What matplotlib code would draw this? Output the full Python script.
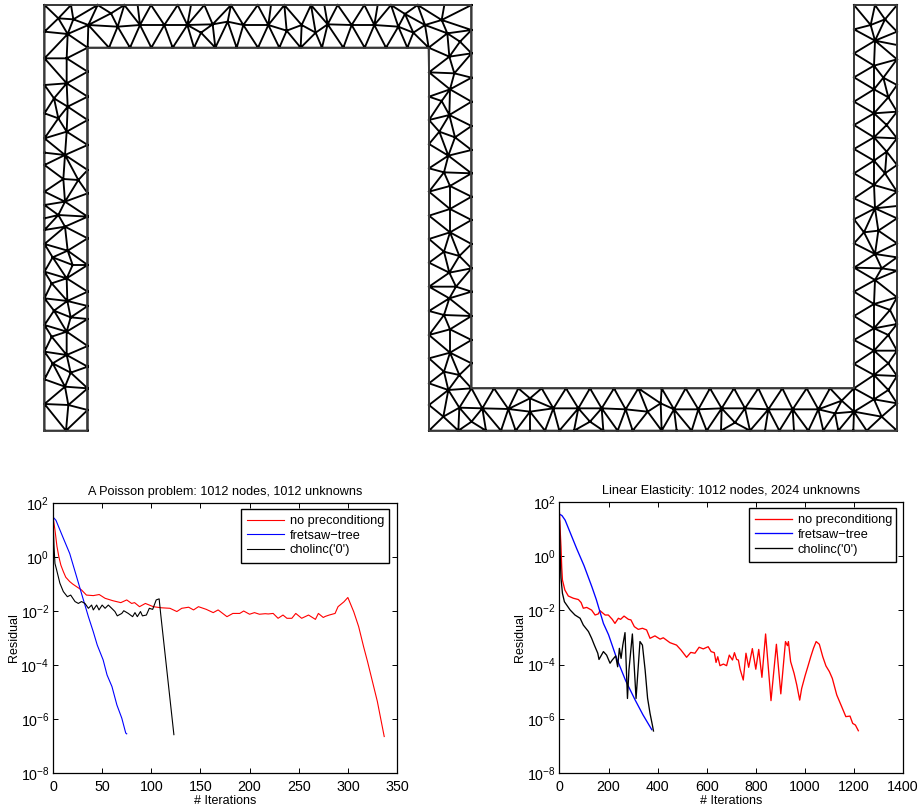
import numpy as np
import matplotlib
matplotlib.use("Agg")
import matplotlib.pyplot as plt
import matplotlib.tri as mtri
from matplotlib.path import Path

plt.rcParams['font.family'] = ['Liberation Sans', 'DejaVu Sans']
plt.rcParams['mathtext.default'] = 'regular'

# mesh outline in picture pixels
outline_x = [44.5, 44.5, 471.5, 471.5, 854, 854, 897, 897, 429, 429, 87, 87, 44.5]
outline_y = [431, 5, 5, 388, 388, 5, 5, 431, 431, 48, 48, 431, 431]

top_band = [(x, 15) for x in [43, 123, 203, 283, 323, 363, 443, 483, 523, 603, 683, 723, 763, 843, 883, 923, 1003, 1043, 1083, 1163, 1243, 1323]]
top_band += [(x, 143) for x in [173, 237, 300, 364, 428, 492, 556, 620, 684, 748, 812, 876, 940, 1004, 1068, 1132, 1196]]
top_band += [(85, 55), (130, 58), (113, 102), (45, 95), (175, 75), (243, 40), (263, 80), (330, 75), (403, 75), (472, 75),
             (548, 73), (513, 98), (593, 65), (640, 75), (715, 75), (770, 92), (815, 75), (857, 98), (893, 73), (965, 75),
             (1033, 75), (1105, 80), (1125, 42), (1185, 75), (1150, 98), (1252, 100), (1235, 60), (1290, 125), (1323, 90)]
left_leg_top = [(43, y) for y in [175, 255, 340, 415, 458, 495, 575, 615, 655]]
left_leg_top += [(173, y) for y in [215, 290, 360, 435, 510, 580, 650]]
left_leg_top += [(110, 175), (110, 250), (72, 295), (113, 320), (85, 355), (110, 395), (105, 465), (100, 537), (145, 540), (105, 605), (85, 645)]
left_leg_low = [(43, y) for y in [30, 72, 155, 235, 315, 395, 478, 552, 632]]
left_leg_low += [(173, y) for y in [55, 135, 215, 258, 297, 378, 440, 505, 570, 632]]
left_leg_low += [(108, 632), (105, 20), (113, 92), (68, 112), (128, 135), (110, 175), (65, 190), (112, 243), (72, 272), (122, 292),
                 (110, 335), (65, 350), (110, 405), (68, 430), (122, 458), (105, 500), (115, 555)]
mid_leg_top = [(27, y) for y in [97, 170, 240, 312, 385, 455, 527, 597]]
mid_leg_top += [(153, y) for y in [40, 113, 185, 258, 330, 400, 470, 540]]
mid_leg_top += [(88, 50), (103, 100), (90, 148), (65, 183), (88, 225), (58, 275), (105, 292), (85, 347), (72, 397), (90, 438), (90, 507), (90, 577)]
mid_leg_low = [(27, y) for y in [98, 170, 243, 315, 385]]
mid_leg_low += [(153, y) for y in [42, 115, 185, 258, 330, 400]]
mid_leg_low += [(72, 65), (118, 78), (88, 128), (108, 170), (88, 205), (72, 255), (90, 298), (90, 368)]
bottom_band = [(x, 55) for x in [155, 222, 295, 365, 438, 510, 582, 655, 725, 797, 870, 942, 1015, 1087, 1160, 1230, 1302]]
bottom_band += [(x, 182) for x in [27, 115, 198, 243, 287, 330, 375, 418, 462, 550, 593, 638, 725, 770, 815, 860, 903, 990, 1035, 1078, 1122, 1165, 1210, 1255, 1300, 1340, 1430]]
bottom_band += [(27, 40), (27, 105), (1430, 18), (1430, 100), (72, 5), (118, 15), (85, 60), (118, 113), (70, 140), (155, 155), (187, 115),
                (265, 117), (330, 85), (330, 125), (400, 115), (475, 115), (510, 155), (545, 115), (617, 118), (683, 125), (722, 100),
                (762, 118), (835, 118), (905, 115), (945, 158), (975, 115), (1045, 118), (1118, 118), (1195, 118), (1245, 130), (1265, 92),
                (1302, 125), (1362, 88), (1385, 140), (1362, 15)]
right_leg_top = [(42, y) for y in [15, 88, 160, 232, 305, 375, 447, 520, 595]]
right_leg_top += [(170, y) for y in [15, 95, 135, 178, 255, 335, 415, 495, 575]]
right_leg_top += [(105, 15), (92, 75), (135, 58), (105, 122), (102, 197), (130, 233), (102, 268), (145, 292), (102, 340), (140, 375),
                  (102, 412), (140, 455), (102, 482), (135, 520), (102, 555)]
right_leg_low = [(42, y) for y in [58, 130, 203, 275, 348, 420, 492]]
right_leg_low += [(170, y) for y in [18, 55, 130, 172, 212, 292, 372, 452]]
right_leg_low += [(105, 25), (72, 97), (115, 92), (105, 162), (125, 205), (105, 240), (102, 312), (150, 330), (102, 385), (145, 405),
                  (102, 452), (145, 490), (145, 570)]

mesh_crops = [(30, 0, top_band), (30, 0, left_leg_top), (30, 220, left_leg_low), (420, 40, mid_leg_top), (420, 230, mid_leg_low),
              (420, 370, bottom_band), (840, 0, right_leg_top), (840, 200, right_leg_low)]

# Poisson problem, x = iteration, y = log10 of residual
poisson_red_x = [0, 2, 4, 6, 8, 10.5, 13, 17, 20, 24, 29, 34, 41, 47, 53, 61, 69, 75, 80, 83, 88, 94, 102, 110, 119, 126, 131, 138, 143, 148, 156, 163, 168, 177, 183, 190, 194, 200, 205, 210, 216, 219, 224, 229, 234, 238, 243, 247, 253, 260, 267, 270, 275, 277, 281, 287, 290, 296, 300, 306, 311, 316, 320, 325, 330, 337]
poisson_red_y = [1.5, 1.0, 0.4, 0.0, -0.3, -0.54, -0.75, -0.91, -1.0, -1.1, -1.22, -1.41, -1.43, -1.39, -1.53, -1.62, -1.69, -1.59, -1.72, -1.69, -1.84, -1.72, -1.84, -1.88, -1.9, -2.02, -1.9, -1.86, -1.96, -1.84, -1.94, -2.06, -1.96, -2.21, -2.09, -2.09, -2.0, -2.12, -2.06, -2.12, -2.1, -2.11, -2.09, -2.27, -2.15, -2.27, -2.27, -2.09, -2.27, -2.15, -2.31, -2.09, -2.24, -2.2, -2.15, -2.09, -1.84, -1.66, -1.5, -2.03, -2.58, -3.32, -3.87, -4.61, -5.35, -6.65]
poisson_blue_x = [0, 3, 10, 17, 24, 29, 36, 41, 45, 51, 55, 60, 65, 70, 74, 75]
poisson_blue_y = [1.48, 1.36, 0.74, 0.13, -0.73, -1.35, -2.21, -2.77, -3.26, -3.81, -4.37, -4.8, -5.48, -5.97, -6.52, -6.55]
poisson_black_x = [0, 1, 2, 3.7, 7, 10.5, 14.6, 18, 22.4, 25.8, 29, 32.5, 36, 39.3, 41, 44.4, 46.8, 50, 53, 56.3, 59.7, 63, 65.4, 70, 72, 76.6, 81, 83.4, 85.8, 89, 91, 95, 98, 101.4, 105, 108, 109.5, 123]
poisson_black_y = [1.48, 0.4, -0.24, -0.48, -0.97, -1.28, -1.47, -1.41, -1.65, -1.72, -1.65, -1.72, -1.9, -1.78, -1.96, -1.78, -1.96, -1.78, -1.9, -1.78, -1.9, -2.02, -2.18, -2.09, -1.99, -2.09, -2.21, -2.06, -2.21, -2.02, -2.18, -2.15, -1.9, -1.94, -1.59, -1.55, -2.09, -6.58]

# linear elasticity
elastic_red_x = [0, 3, 6, 9, 12, 22, 36, 56, 77, 88, 97, 111, 131, 145, 158, 165, 186, 199, 215, 226, 240, 249, 263, 281, 291, 305, 321, 338, 355, 369, 389, 410, 423, 450, 477, 495, 518, 535, 552, 569, 586, 606, 618, 631, 638, 645, 654, 668, 681, 692, 705, 713, 722, 729, 736, 749, 760, 771, 786, 800, 812, 825, 840, 862, 884, 902, 921, 929, 933, 942, 956, 967, 979, 987, 1001, 1012, 1024, 1035, 1046, 1059, 1073, 1086, 1100, 1112, 1130, 1150, 1167, 1184, 1195, 1206, 1218]
elastic_red_y = [1.6, 0.9, 0.35, -0.4, -0.88, -1.25, -1.47, -1.55, -1.6, -1.71, -1.92, -1.89, -1.99, -2.17, -2.13, -2.01, -2.17, -2.17, -2.33, -2.48, -2.29, -2.33, -2.21, -2.33, -2.35, -2.6, -2.7, -2.66, -2.72, -3.03, -2.94, -3.06, -3.01, -3.19, -3.28, -3.46, -3.73, -3.55, -3.58, -3.36, -3.42, -3.34, -3.52, -3.56, -3.92, -3.71, -4.04, -3.98, -4.04, -3.65, -3.83, -3.56, -3.81, -3.83, -4.17, -4.57, -3.58, -4.1, -3.41, -4.17, -3.44, -4.47, -2.87, -5.33, -3.25, -5.08, -3.15, -3.3, -3.15, -3.89, -4.32, -4.75, -5.31, -4.88, -4.41, -4.08, -3.71, -3.4, -3.15, -3.25, -3.71, -4.05, -4.26, -4.51, -5.12, -5.55, -5.92, -5.9, -6.17, -6.23, -6.44]
elastic_blue_x = [0, 10, 23, 40, 70, 100, 132, 150, 179, 200, 233, 270, 308, 340, 376]
elastic_blue_y = [1.55, 1.5, 1.33, 0.95, 0.28, -0.35, -1.13, -1.6, -2.48, -2.9, -3.77, -4.6, -5.3, -5.85, -6.4]
elastic_black_x = [0, 3, 6, 12, 20, 43, 63, 84, 97, 118, 131, 142, 156, 161, 179, 192, 206, 215, 229, 237, 244, 251, 258, 267, 277, 283, 297, 312, 328, 338, 349, 359, 369, 380, 383]
elastic_black_y = [1.3, 0.0, -0.8, -1.37, -1.68, -1.98, -2.17, -2.29, -2.54, -2.78, -3.03, -3.28, -3.58, -3.81, -3.52, -3.65, -3.95, -3.83, -3.68, -4.08, -3.4, -3.77, -3.28, -2.82, -5.25, -4.2, -2.87, -5.25, -3.15, -3.28, -4.2, -5.24, -5.8, -6.3, -6.45]

legend_labels = ["no preconditiong", "fretsaw\u2212tree", "cholinc('0')"]
yticks = [1e-8, 1e-6, 1e-4, 1e-2, 1e0, 1e2]

W, H = 920, 808
fig = plt.figure(figsize=(W / 100, H / 100), dpi=100)

# mesh
mesh_ax = fig.add_axes([0, 0, 1, 1])
mesh_ax.set_xlim(0, W)
mesh_ax.set_ylim(H, 0)
mesh_ax.axis('off')

node_x = []
node_y = []
for ox, oy, pts in mesh_crops:
    for px, py in pts:
        node_x.append(px / 3 + ox)
        node_y.append(py / 3 + oy)
node_x = np.array(node_x)
node_y = np.array(node_y)
# snap boundary nodes onto the outline
node_x[np.abs(node_x - 44.5) < 2] = 44.5
node_x[np.abs(node_x - 471.5) < 2] = 471.5
node_x[np.abs(node_x - 897) < 2] = 897

tri = mtri.Triangulation(node_x, node_y)
outline = Path(np.column_stack([outline_x, outline_y]))
cx = node_x[tri.triangles].mean(axis=1)
cy = node_y[tri.triangles].mean(axis=1)
tri.set_mask(~outline.contains_points(np.column_stack([cx, cy])))
mesh_ax.triplot(tri, color='black', lw=1.35)
mesh_ax.plot(outline_x, outline_y, color='#444444', lw=1.2)


def residual_plot(rect, title, xmax, xstep, red, blue, black, legend_box, lw):
    ax = fig.add_axes([rect[0] / W, 1 - rect[3] / H, (rect[2] - rect[0]) / W, (rect[3] - rect[1]) / H])
    for (xs, ys), c, lab in zip((red, blue, black), ('#ff0000', '#0000ff', '#000000'), legend_labels):
        ax.plot(xs, 10.0 ** np.array(ys), color=c, lw=lw, label=lab)
    ax.set_yscale('log')
    ax.set_xlim(0, xmax)
    ax.set_ylim(1e-8, 1e2)
    ax.set_xticks(np.arange(0, xmax + 1, xstep))
    ax.set_yticks(yticks)
    ax.minorticks_off()
    ax.tick_params(which='major', direction='in', top=True, right=True, length=3.5, width=0.7, labelsize=10.3)
    ax.tick_params(axis='x', pad=5)
    ax.tick_params(axis='y', pad=2.5)
    for s in ax.spines.values():
        s.set_linewidth(0.9)
    ax.set_title(title, fontsize=9.1, pad=6)
    ax.set_xlabel("# Iterations", fontsize=9, labelpad=1)
    ax.set_ylabel("Residual", fontsize=9, labelpad=0.3)
    leg = ax.legend(loc='upper left', bbox_to_anchor=legend_box, bbox_transform=fig.transFigure, mode='expand',
                    fancybox=False, framealpha=1, edgecolor='black', fontsize=9.2, borderaxespad=0, borderpad=0.5,
                    labelspacing=0.2, handlelength=2.9, handletextpad=0.4)
    leg.get_frame().set_linewidth(1.0)
    return ax


residual_plot((53, 503, 397, 773), "A Poisson problem: 1012 nodes, 1012 unknowns", 350, 50,
              (poisson_red_x, poisson_red_y), (poisson_blue_x, poisson_blue_y), (poisson_black_x, poisson_black_y),
              (241 / W, 1 - 560 / H, 148 / W, 51 / H), 0.8)
residual_plot((559.5, 502, 903, 773), "Linear Elasticity: 1012 nodes, 2024 unknowns", 1400, 200,
              (elastic_red_x, elastic_red_y), (elastic_blue_x, elastic_blue_y), (elastic_black_x, elastic_black_y),
              (749 / W, 1 - 559 / H, 147 / W, 51 / H), 0.95)

fig.savefig("out.png", dpi=100)
